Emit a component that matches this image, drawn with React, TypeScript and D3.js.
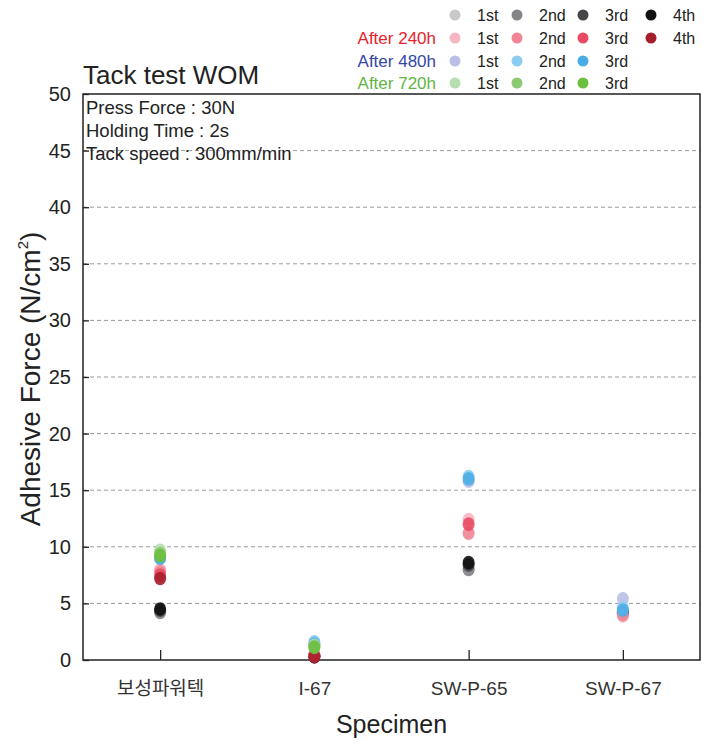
import React, { useEffect, useRef } from 'react';
import * as d3 from 'd3';

// specimens on the x axis
const categories = ['보성파워텍', 'I-67', 'SW-P-65', 'SW-P-67'];
const yTicks = [0, 5, 10, 15, 20, 25, 30, 35, 40, 45, 50];

// initial measurements (N/cm2), one value per specimen, null = not measured
const initial1st = [4.3, 0.3, 8.0, 4.1];
const initial2nd = [4.2, 0.3, 8.0, 4.2];
const initial3rd = [4.4, 0.4, 8.4, 4.2];
const initial4th = [4.5, 0.3, 8.6, 4.1];

const after240_1st = [8.0, 0.5, 12.4, 3.9];
const after240_2nd = [7.8, 0.4, 11.2, 4.0];
const after240_3rd = [7.5, 0.4, 12.0, null];
const after240_4th = [7.2, 0.3, null, null];

const after480_1st = [9.0, 1.5, 15.8, 5.4];
const after480_2nd = [9.1, 1.6, 16.2, 4.6];
const after480_3rd = [9.0, 1.4, 16.0, 4.4];

const after720_1st = [9.7, 1.3, null, null];
const after720_2nd = [9.4, 1.2, null, null];
const after720_3rd = [9.2, 1.1, null, null];

const groupNames = ['', 'After 240h', 'After 480h', 'After 720h'];
const groupColors = ['#000', '#e8222a', '#3446a8', '#62b543'];
const runLabels = ['1st', '2nd', '3rd', '4th'];

const groups = [
  { values: [initial1st, initial2nd, initial3rd, initial4th], colors: ['#c9c9cc', '#858589', '#45464a', '#111111'] },
  { values: [after240_1st, after240_2nd, after240_3rd, after240_4th], colors: ['#f6b7c3', '#f28494', '#ea4a63', '#a61e2c'] },
  { values: [after480_1st, after480_2nd, after480_3rd], colors: ['#b9bfe6', '#8bcdf1', '#4badE6'] },
  { values: [after720_1st, after720_2nd, after720_3rd], colors: ['#b6dfb0', '#8bc973', '#6cbf3f'] },
];

const App = () => {
  const svgRef = useRef(null);

  useEffect(() => {
    document.body.style.margin = '0';
    const width = 715;
    const height = 744;
    const margin = { top: 94, right: 15, bottom: 84, left: 83 };
    const innerWidth = width - margin.left - margin.right;
    const innerHeight = height - margin.top - margin.bottom;
    const font = '"Liberation Sans", Arial, sans-serif';

    const svg = d3.select(svgRef.current);
    svg.selectAll('*').remove();
    svg.attr('width', width).attr('height', height).style('font-family', font);

    const g = svg.append('g').attr('transform', `translate(${margin.left},${margin.top})`);

    const x = d3.scalePoint().domain(categories).range([0, innerWidth]).padding(0.5);
    const y = d3.scaleLinear().domain([0, 50]).range([innerHeight, 0]);

    // grid
    g.selectAll('.grid')
      .data(yTicks.filter((t) => t > 0 && t < 50))
      .enter()
      .append('line')
      .attr('x1', 0)
      .attr('x2', innerWidth)
      .attr('y1', (d) => y(d))
      .attr('y2', (d) => y(d))
      .attr('stroke', '#9a9a9a')
      .attr('stroke-width', 1)
      .attr('stroke-dasharray', '4,3');

    // y axis ticks (inward) and labels
    const yAxis = g.append('g').call(d3.axisLeft(y).tickValues(yTicks).tickSize(-6).tickPadding(12));
    yAxis.select('.domain').remove();
    yAxis.selectAll('line').attr('stroke', '#222').attr('stroke-width', 1.3);
    yAxis.selectAll('text').attr('font-size', 20).attr('fill', '#222').attr('font-family', font);

    const xAxis = g
      .append('g')
      .attr('transform', `translate(0,${innerHeight})`)
      .call(d3.axisBottom(x).tickSize(-10).tickPadding(22));
    xAxis.select('.domain').remove();
    xAxis.selectAll('line').attr('stroke', '#222').attr('stroke-width', 1.3);
    xAxis
      .selectAll('text')
      .attr('font-size', 19)
      .attr('fill', '#333')
      .attr('font-family', (d) => (d === categories[0] ? '"Noto Sans CJK KR", sans-serif' : font));

    // frame
    g.append('rect')
      .attr('width', innerWidth)
      .attr('height', innerHeight)
      .attr('fill', 'none')
      .attr('stroke', '#222')
      .attr('stroke-width', 1.5);

    // points
    groups.forEach((grp) => {
      grp.values.forEach((vals, i) => {
        g.selectAll(null)
          .data(categories.map((c, k) => ({ c, v: vals[k] })).filter((d) => d.v != null))
          .enter()
          .append('ellipse')
          .attr('cx', (d) => x(d.c))
          .attr('cy', (d) => y(d.v))
          .attr('rx', 6)
          .attr('ry', 6.8)
          .attr('fill', grp.colors[i])
          .attr('opacity', 0.9);
      });
    });

    // test conditions
    const notes = ['Press Force : 30N', 'Holding Time : 2s', 'Tack speed : 300mm/min'];
    g.selectAll('.note')
      .data(notes)
      .enter()
      .append('text')
      .attr('x', 3)
      .attr('y', (d, i) => 20 + i * 23)
      .attr('font-size', 18.5)
      .attr('fill', '#222')
      .text((d) => d);

    // title
    svg.append('text').attr('x', 83).attr('y', 84).attr('font-size', 26).attr('fill', '#222').text('Tack test WOM');

    // legend
    const rowY = [15, 38, 61, 83];
    const colX = [455, 517, 583, 651];
    groups.forEach((grp, r) => {
      if (groupNames[r]) {
        svg.append('text')
          .attr('x', 436)
          .attr('y', rowY[r] + 6)
          .attr('text-anchor', 'end')
          .attr('font-size', 17)
          .attr('fill', groupColors[r])
          .text(groupNames[r]);
      }
      grp.colors.forEach((col, i) => {
        svg.append('circle').attr('cx', colX[i]).attr('cy', rowY[r]).attr('r', 5.5).attr('fill', col);
        svg.append('text')
          .attr('x', colX[i] + 22)
          .attr('y', rowY[r] + 6)
          .attr('font-size', 16)
          .attr('fill', '#222')
          .text(runLabels[i]);
      });
    });

    // axis titles
    const yl = svg.append('text')
      .attr('transform', `translate(40,${margin.top + innerHeight / 2 + 2}) rotate(-90)`)
      .attr('text-anchor', 'middle')
      .attr('font-size', 28)
      .attr('fill', '#222');
    yl.append('tspan').text('Adhesive Force (N/cm');
    yl.append('tspan').attr('font-size', 15).attr('dy', -12).text('2');
    yl.append('tspan').attr('dy', 12).text(')');

    svg.append('text')
      .attr('x', margin.left + innerWidth / 2)
      .attr('y', 733)
      .attr('text-anchor', 'middle')
      .attr('font-size', 25)
      .attr('fill', '#222')
      .text('Specimen');
  }, []);

  return <svg ref={svgRef}></svg>;
};

export default App;
